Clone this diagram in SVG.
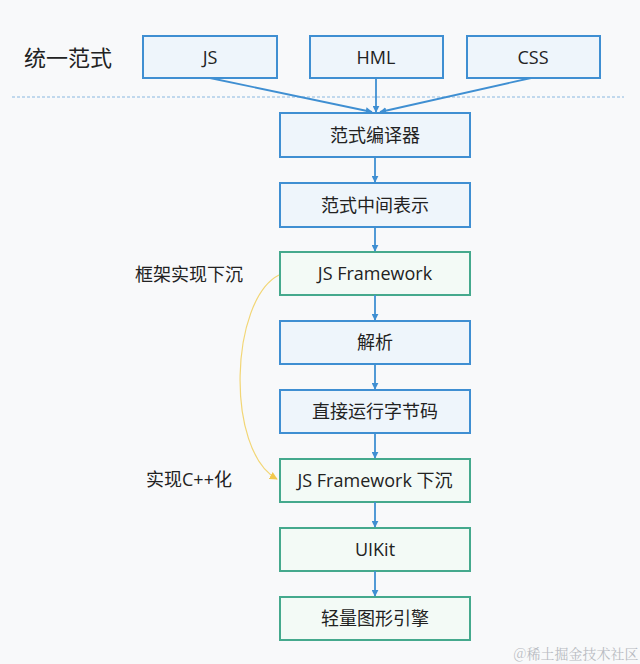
<svg xmlns="http://www.w3.org/2000/svg" width="640" height="664" viewBox="0 0 640 664">
<style>
text{font-family:"Open Sans","Noto Sans CJK SC",sans-serif;fill:#222;text-anchor:middle;dominant-baseline:central}
.b{fill:#eef5fb;stroke:#3f8fd2;stroke-width:2}
.g{fill:#f3faf6;stroke:#45a98d;stroke-width:2}
.t{font-size:18px}
.l{font-size:18px}
.c{stroke:#3f8fd2;stroke-width:1.8;fill:none}
</style>
<defs>
<marker id="a" viewBox="0 0 10 10" refX="9" refY="5" markerWidth="7" markerHeight="7" orient="auto" markerUnits="userSpaceOnUse" >
<path d="M0,0 L10,5 L0,10 z" fill="#3f8fd2"/>
</marker>
<marker id="ay" viewBox="0 0 10 10" refX="9" refY="5" markerWidth="8" markerHeight="8" orient="auto" markerUnits="userSpaceOnUse">
<path d="M0,0 L10,5 L0,10 z" fill="#f2c94c"/>
</marker>
</defs>
<rect width="640" height="664" fill="#f8f9fa"/>
<text x="68" y="57" style="font-size:22px">统一范式</text>
<line x1="12" y1="97" x2="624" y2="97" stroke="#8ab8e0" stroke-width="1" stroke-dasharray="3,2"/>
<text x="189" y="274" class="l">框架实现下沉</text>
<text x="189" y="479" class="l">实现C++化</text>
<g id="n-js"><rect class="b" x="143" y="36" width="134" height="42"/><text class="t" x="210" y="57">JS</text></g>
<g id="n-hml"><rect class="b" x="310" y="36" width="133" height="42"/><text class="t" x="376" y="57">HML</text></g>
<g id="n-css"><rect class="b" x="467" y="36" width="133" height="42"/><text class="t" x="533" y="57">CSS</text></g>
<g id="n1"><rect class="b" x="280" y="113" width="190" height="44"/><text class="t" x="375" y="135">范式编译器</text></g>
<g id="n2"><rect class="b" x="280" y="183" width="190" height="44"/><text class="t" x="375" y="205">范式中间表示</text></g>
<g id="n3"><rect class="g" x="280" y="252" width="190" height="43"/><text class="t" x="375" y="273">JS Framework</text></g>
<g id="n4"><rect class="b" x="280" y="321" width="190" height="43"/><text class="t" x="375" y="342">解析</text></g>
<g id="n5"><rect class="b" x="280" y="390" width="190" height="43"/><text class="t" x="375" y="411">直接运行字节码</text></g>
<g id="n6"><rect class="g" x="280" y="459" width="190" height="43"/><text class="t" x="375" y="480">JS Framework 下沉</text></g>
<g id="n7"><rect class="g" x="280" y="528" width="190" height="43"/><text class="t" x="375" y="549">UIKit</text></g>
<g id="n8"><rect class="g" x="280" y="597" width="190" height="43"/><text class="t" x="375" y="618">轻量图形引擎</text></g>
<g id="connectors">
<line class="c" x1="210" y1="78" x2="372" y2="112" marker-end="url(#a)"/>
<line class="c" x1="376" y1="78" x2="376" y2="112" marker-end="url(#a)"/>
<line class="c" x1="531" y1="78" x2="380" y2="112" marker-end="url(#a)"/>
<line class="c" x1="375" y1="157" x2="375" y2="182" marker-end="url(#a)"/>
<line class="c" x1="375" y1="227" x2="375" y2="251" marker-end="url(#a)"/>
<line class="c" x1="375" y1="295" x2="375" y2="320" marker-end="url(#a)"/>
<line class="c" x1="375" y1="364" x2="375" y2="389" marker-end="url(#a)"/>
<line class="c" x1="375" y1="433" x2="375" y2="458" marker-end="url(#a)"/>
<line class="c" x1="375" y1="502" x2="375" y2="527" marker-end="url(#a)"/>
<line class="c" x1="375" y1="571" x2="375" y2="596" marker-end="url(#a)"/>
<path d="M279,275 C230,300 225,450 277,479" fill="none" stroke="#f2d675" stroke-width="1.2" marker-end="url(#ay)"/>
</g>
<text x="576" y="653" style="font-size:14px;font-family:'Noto Serif CJK SC','Noto Sans CJK SC',serif;fill:#b8bcc2">@稀土掘金技术社区</text>
</svg>
